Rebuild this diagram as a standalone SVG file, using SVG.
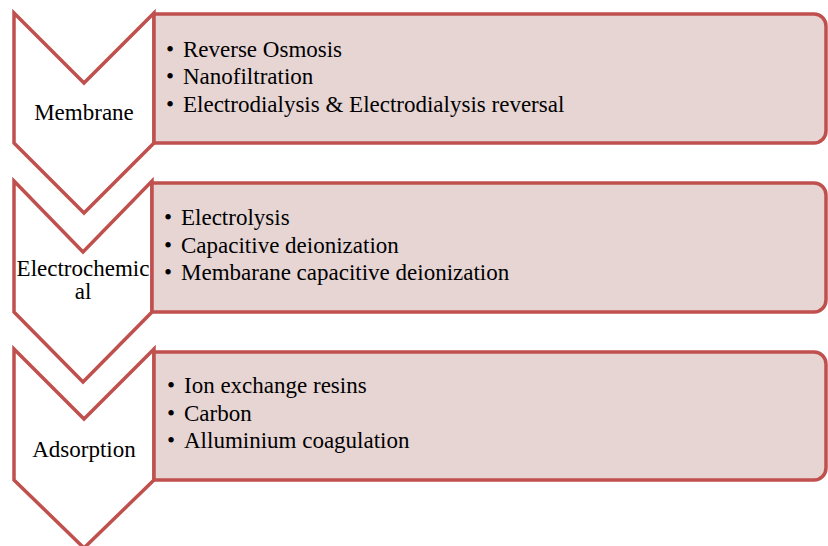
<svg xmlns="http://www.w3.org/2000/svg" width="828" height="546" viewBox="0 0 828 546">
<style>
.chev{fill:#FFFFFF;stroke:#C0504D;stroke-width:3.5;stroke-linejoin:miter}
.box{fill:#E7D5D4;stroke:#C0504D;stroke-width:3.5}
.lbl{font-family:"Liberation Serif","Times New Roman",serif;font-size:23px;fill:#000000;text-anchor:middle}
.item{font-family:"Liberation Serif","Times New Roman",serif;font-size:23px;fill:#000000}
</style>
<rect width="828" height="546" fill="#FFFFFF"/>
<g id="membrane">
<polygon class="chev" points="14,13 84,83 154,13 154,143 84,213 14,143"/>
<text class="lbl" x="84" y="120">Membrane</text>
</g>
<g id="membrane-list">
<path class="box" d="M154,14 H814 A12,12 0 0 1 826,26 V131 A12,12 0 0 1 814,143 H154 Z"/>
<text class="item" x="166" y="57">•</text><text class="item" x="183" y="57">Reverse Osmosis</text>
<text class="item" x="166" y="84">•</text><text class="item" x="183" y="84">Nanofiltration</text>
<text class="item" x="166" y="112">•</text><text class="item" x="183" y="112">Electrodialysis &amp; Electrodialysis reversal</text>
</g>
<g id="electrochemical">
<polygon class="chev" points="14,181 83,252 152,181 152,312 83,382 14,312"/>
<text class="lbl" x="83" y="276">Electrochemic</text>
<text class="lbl" x="83" y="299">al</text>
</g>
<g id="electrochemical-list">
<path class="box" d="M152,183 H814 A12,12 0 0 1 826,195 V300 A12,12 0 0 1 814,312 H152 Z"/>
<text class="item" x="164" y="225">•</text><text class="item" x="181" y="225">Electrolysis</text>
<text class="item" x="164" y="253">•</text><text class="item" x="181" y="253">Capacitive deionization</text>
<text class="item" x="164" y="280">•</text><text class="item" x="181" y="280">Membarane capacitive deionization</text>
</g>
<g id="adsorption">
<polygon class="chev" points="14,349 84,419 154,349 154,480 84,548 14,480"/>
<text class="lbl" x="84" y="457">Adsorption</text>
</g>
<g id="adsorption-list">
<path class="box" d="M154,352 H814 A12,12 0 0 1 826,364 V468 A12,12 0 0 1 814,480 H154 Z"/>
<text class="item" x="167" y="393">•</text><text class="item" x="184" y="393">Ion exchange resins</text>
<text class="item" x="167" y="421">•</text><text class="item" x="184" y="421">Carbon</text>
<text class="item" x="167" y="448">•</text><text class="item" x="184" y="448">Alluminium coagulation</text>
</g>
<g id="connectors"></g>
</svg>
